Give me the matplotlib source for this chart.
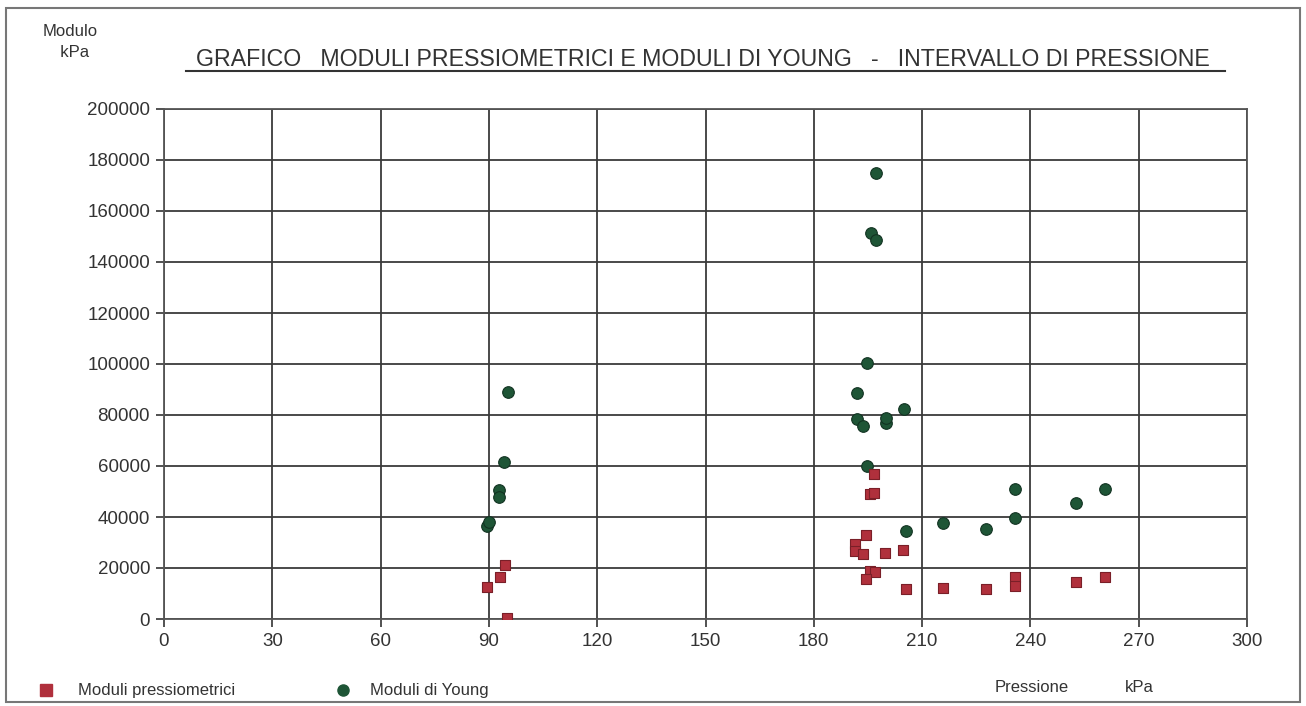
import matplotlib.pyplot as plt
from matplotlib.lines import Line2D
from matplotlib.patches import Rectangle

# moduli pressiometrici (pressione kPa, modulo kPa)
press_pm = [89.5, 93.0, 94.5, 95.0,
            191.5, 191.5, 193.5, 194.5, 195.5, 197.0, 194.5, 199.8, 204.8,
            196.8, 195.5, 196.8,
            205.6, 215.9, 227.8, 235.8, 235.8, 252.7, 260.7]
mod_pm = [12500, 16500, 21000, 500,
          29500, 26500, 25500, 33000, 19000, 18500, 15500, 25800, 27000,
          57000, 49000, 49500,
          11800, 12300, 11800, 16500, 12800, 14500, 16500]

# moduli di Young
press_young = [89.4, 90.0, 92.7, 92.7, 94.1, 95.2,
               197.1, 195.9, 197.1, 194.8, 192.1, 205.1, 192.1, 193.5,
               200.1, 200.1, 194.8,
               205.6, 215.9, 227.8, 235.8, 235.8, 252.7, 260.7]
mod_young = [36500, 38000, 50600, 48000, 61500, 89000,
             174900, 151400, 148600, 100400, 88600, 82400, 78400, 75700,
             77000, 78800, 60000,
             34500, 37600, 35300, 51000, 39600, 45500, 51000]

x_ticks = list(range(0, 301, 30))
y_ticks = list(range(0, 200001, 20000))

red = '#b0303c'
green = '#1e5536'
font = ['Liberation Sans Narrow', 'Liberation Sans', 'DejaVu Sans']
plt.rcParams['font.family'] = font

fig = plt.figure(figsize=(13.06, 7.06), dpi=100)
ax = fig.add_axes([164 / 1306, 1 - 619 / 706, (1247 - 164) / 1306, (619 - 109) / 706])

ax.scatter(press_young, mod_young, marker='o', s=70, color=green,
           edgecolors='#123322', linewidths=0.8, zorder=3)
ax.scatter(press_pm, mod_pm, marker='s', s=60, color=red,
           edgecolors='#7a1f28', linewidths=0.8, zorder=4)

ax.set_xlim(0, 300)
ax.set_ylim(0, 200000)
ax.set_xticks(x_ticks)
ax.set_yticks(y_ticks)
ax.set_xticklabels([str(v) for v in x_ticks])
ax.set_yticklabels([str(v) for v in y_ticks])
ax.tick_params(direction='out', length=6, width=1.2, colors='#333333',
               labelsize=13.5, labelcolor='#333333', pad=4)
ax.grid(True, color='#3a3a3a', linewidth=1.3)
ax.set_axisbelow(True)
for s in ax.spines.values():
    s.set_color('#555555')
    s.set_linewidth(1.3)

# frame around the whole sheet
fig.add_artist(Rectangle((6 / 1306, 4 / 706), 1294 / 1306, 694 / 706,
                         transform=fig.transFigure, fill=False,
                         edgecolor='#777777', linewidth=1.5))

fig.text(70 / 1306, 1 - 42 / 706, 'Modulo\n  kPa', fontsize=12, color='#333333',
         ha='center', va='center', linespacing=1.5)

title = ('GRAFICO   MODULI PRESSIOMETRICI E MODULI DI YOUNG   -   '
         'INTERVALLO DI PRESSIONE')
fig.text(703 / 1306, 1 - 60 / 706, title, fontsize=16.7, color='#333333',
         ha='center', va='center')
fig.add_artist(Line2D([186 / 1306, 1225 / 1306], [1 - 71 / 706, 1 - 71 / 706],
                      transform=fig.transFigure, color='#333333', linewidth=1.5))

# legend
fig.add_artist(Line2D([46 / 1306], [1 - 690 / 706], transform=fig.transFigure,
                      marker='s', markersize=8, color=red, linestyle='none'))
fig.text(78 / 1306, 1 - 690 / 706, 'Moduli pressiometrici', fontsize=12,
         color='#333333', va='center')
fig.add_artist(Line2D([343 / 1306], [1 - 690 / 706], transform=fig.transFigure,
                      marker='o', markersize=8, color=green, linestyle='none'))
fig.text(370 / 1306, 1 - 690 / 706, 'Moduli di Young', fontsize=12,
         color='#333333', va='center')

fig.text(995 / 1306, 1 - 688 / 706, 'Pressione', fontsize=12,
         color='#333333', va='center')
fig.text(1125 / 1306, 1 - 688 / 706, 'kPa', fontsize=12,
         color='#333333', va='center')

plt.savefig('out.png', dpi=100)
